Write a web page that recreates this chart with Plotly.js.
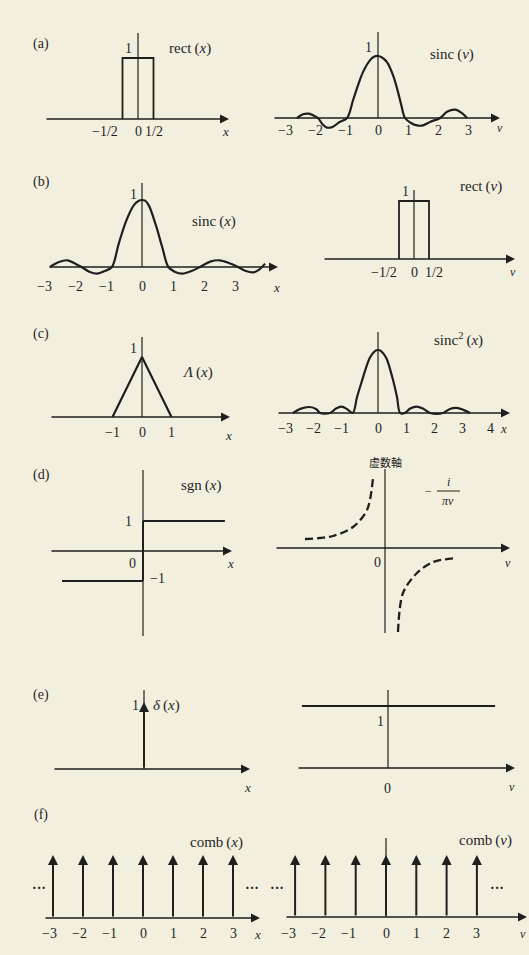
<!DOCTYPE html>
<html><head><meta charset="utf-8">
<script src="https://cdn.plot.ly/plotly-3.0.1.min.js"></script>
<style>html,body{margin:0;padding:0;background:#f3efdf;}#chart{width:529px;height:955px;}</style>
</head><body><div id="chart"></div>
<script>
// ================= DATA =================
// (a) rect(x)
const rectX = [-0.5, -0.5, 0.5, 0.5];
const rectY = [0, 1, 1, 0];
// (a) sinc(nu)
const sincNuX = [-2.7, -2.5, -2.3, -2.15, -2.0, -1.85, -1.7, -1.5, -1.3, -1.03, -0.83, -0.65, -0.5, -0.27, -0.12, 0, 0.12, 0.3, 0.5, 0.65, 0.78, 0.9, 1.1, 1.3, 1.5, 1.75, 2.07, 2.3, 2.57, 2.8, 2.97];
const sincNuY = [0, 0.06, 0.07, 0.04, 0, -0.1, -0.155, -0.14, -0.07, 0, 0.29, 0.55, 0.74, 0.93, 0.99, 1, 0.98, 0.9, 0.69, 0.45, 0.2, 0, -0.08, -0.12, -0.12, -0.06, 0, 0.1, 0.135, 0.08, 0];
// (b) sinc(x)
const sincX = [-2.97, -2.7, -2.4, -2.15, -1.95, -1.7, -1.45, -1.2, -0.97, -0.75, -0.5, -0.25, -0.1, 0, 0.1, 0.22, 0.45, 0.65, 0.85, 1.05, 1.3, 1.6, 1.87, 2.2, 2.5, 2.8, 3.1, 3.35, 3.6, 3.8, 3.97];
const sincY = [0, 0.07, 0.1, 0.05, 0, -0.07, -0.1, -0.06, 0, 0.35, 0.7, 0.93, 0.99, 1, 0.99, 0.92, 0.62, 0.3, 0, -0.07, -0.1, -0.06, 0, 0.08, 0.1, 0.06, 0, -0.06, -0.08, -0.03, 0.05];
// (b) rect(nu)
const rectNuX = [-0.5, -0.5, 0.5, 0.5];
const rectNuY = [0, 1, 1, 0];
// (c) triangle
const triX = [-1, 0, 1];
const triY = [0, 1, 0];
// (c) sinc^2(x)
const sinc2X = [-3.04, -2.75, -2.45, -2.2, -2.07, -1.71, -1.5, -1.3, -1.1, -0.9, -0.75, -0.58, -0.3, -0.12, 0, 0.12, 0.3, 0.55, 0.68, 0.79, 0.96, 1.15, 1.38, 1.6, 1.86, 2.32, 2.55, 2.8, 3.05, 3.29];
const sinc2Y = [0, 0.07, 0.095, 0.06, 0, 0, 0.07, 0.1, 0.06, 0, 0.25, 0.5, 0.87, 0.98, 1, 0.98, 0.87, 0.5, 0.25, 0, 0, 0.07, 0.1, 0.07, 0, 0, 0.06, 0.08, 0.05, 0];
// (d) sgn(x)
const sgnPosX = [0, 2.73], sgnPosY = [1, 1];
const sgnNegX = [-2.7, 0], sgnNegY = [-1, -1];
const sgnJumpX = [0, 0], sgnJumpY = [-1, 1];
// (d) -i/(pi nu)
const invNegX = [-4, -2.6, -1.6, -0.9, -0.6];
const invNegY = [0.09, 0.12, 0.21, 0.38, 0.7];
const invPosX = [0.65, 0.9, 1.6, 2.4, 3.6];
const invPosY = [-0.84, -0.45, -0.25, -0.14, -0.1];
// (e) delta and constant 1
const deltaX = [0], deltaY = [1];
const constX = [-2.87, 3.57], constY = [1, 1];
// (f) comb
const combX = [-3, -2, -1, 0, 1, 2, 3];
const combY = [1, 1, 1, 1, 1, 1, 1];
// tick labels
const halfVals = [-0.5, 0, 0.5];
const halfText = ['\u22121/2', '0', '1/2'];
const intVals7 = [-3, -2, -1, 0, 1, 2, 3];
const intVals8 = [-3, -2, -1, 0, 1, 2, 3, 4];
const intVals3 = [-1, 0, 1];

// ================= LAYOUT / STYLE =================
const W = 529, H = 955;
const INK = '#1f1f1f';
const SERIF = 'Liberation Serif, DejaVu Serif, serif';
const CJK = 'Noto Sans CJK JP';
const panels = {
  a1: {box:[28,262,20,150], o:[138,119], s:[31,61], h:[45,229], v:[33,119]},
  a2: {box:[265,529,20,150], o:[378,118], s:[30,62], h:[273,500], v:[32,118]},
  b1: {box:[28,290,170,305], o:[142,267], s:[31,67], h:[48,278], v:[183,267]},
  b2: {box:[300,529,170,305], o:[414,259], s:[30,58], h:[323,515], v:[190,259]},
  c1: {box:[28,262,320,450], o:[142,417], s:[29.5,60], h:[50,230], v:[337,417]},
  c2: {box:[265,529,320,450], o:[378,413], s:[28,63], h:[277,510], v:[332,413]},
  d1: {box:[28,262,455,650], o:[143,551], s:[30,30], h:[50,232], v:[470,636]},
  d2: {box:[265,529,455,650], o:[385,548], s:[20,100], h:[275,510], v:[469,633]},
  e1: {box:[28,262,670,800], o:[144,769], s:[30,67], h:[53,250], v:[690,769]},
  e2: {box:[280,529,670,800], o:[388,768], s:[30,62], h:[297,515], v:[690,768]},
  f1: {box:[20,268,820,950], o:[143,918], s:[30,63], h:[44,260], v:null},
  f2: {box:[272,529,820,950], o:[386,917], s:[30.3,62], h:[285,527], v:[838,917]}
};
const order = ['a1','a2','b1','b2','c1','c2','d1','d2','e1','e2','f1','f2'];
const layout = {
  width: W, height: H, autosize: false,
  margin: {l:0, r:0, t:0, b:0, pad:0},
  paper_bgcolor: '#f3efdf', plot_bgcolor: 'rgba(0,0,0,0)',
  showlegend: false, hovermode: false,
  annotations: [], shapes: []
};
order.forEach((k, i) => {
  const p = panels[k], n = i === 0 ? '' : String(i + 1);
  p.xa = 'x' + n; p.ya = 'y' + n;
  const [bx0, bx1, by0, by1] = p.box, [ox, oy] = p.o, [sx, sy] = p.s;
  layout['xaxis' + n] = {domain:[bx0/W, bx1/W], range:[(bx0-ox)/sx, (bx1-ox)/sx], visible:false, fixedrange:true, anchor:'y'+n};
  layout['yaxis' + n] = {domain:[1-by1/H, 1-by0/H], range:[(oy-by1)/sy, (oy-by0)/sy], visible:false, fixedrange:true, anchor:'x'+n};
  // horizontal axis with arrow
  layout.annotations.push({xref:p.xa, yref:p.ya, axref:p.xa, ayref:p.ya,
    x:(p.h[1]-ox)/sx, y:0, ax:(p.h[0]-ox)/sx, ay:0, text:'', showarrow:true,
    arrowhead:2, arrowsize:1.2, arrowwidth:1.5, arrowcolor:INK, standoff:0});
  // vertical axis
  if (p.v) layout.shapes.push({type:'line', xref:p.xa, yref:p.ya, x0:0, x1:0,
    y0:(oy-p.v[1])/sy, y1:(oy-p.v[0])/sy, line:{color:INK, width:1.2}});
});

const traces = [];
function line(k, xs, ys, opt) {
  opt = opt || {};
  const p = panels[k];
  traces.push({type:'scatter', mode:'lines', x:xs, y:ys, xaxis:p.xa, yaxis:p.ya,
    line:{color:INK, width:opt.w || 2.2, shape:opt.shape || 'linear', dash:opt.dash || 'solid', smoothing:0.9},
    hoverinfo:'skip', cliponaxis:false});
}
function dtext(k, x, y, t, dx, dy, size) {
  const p = panels[k];
  layout.annotations.push({xref:p.xa, yref:p.ya, x:x, y:y, text:t, showarrow:false,
    xshift:dx || 0, yshift:dy || 0, xanchor:'center', yanchor:'middle',
    font:{family:SERIF, size:size || 14, color:INK}});
}
function ptext(px, py, t, size, fam) {
  layout.annotations.push({xref:'paper', yref:'paper', x:px/W, y:1-py/H, text:t, showarrow:false,
    xanchor:'center', yanchor:'middle', font:{family:fam || SERIF, size:size || 14, color:INK}});
}
function arrows(k, xs, ys, w) {
  const p = panels[k];
  xs.forEach((x, i) => layout.annotations.push({xref:p.xa, yref:p.ya, axref:p.xa, ayref:p.ya,
    x:x, y:ys[i], ax:x, ay:0, text:'', showarrow:true, arrowhead:2, arrowsize:1,
    arrowwidth:w || 2, arrowcolor:INK, standoff:0}));
}
function ticks(k, vals, texts, dy, shifts) {
  vals.forEach((v, i) => dtext(k, v, 0, texts[i], shifts ? shifts[i] : 0, dy, 14));
}
const fmt = v => (v < 0 ? '\u2212' + Math.abs(v) : String(v));
const negShift = (vals, d) => vals.map(v => (v < 0 ? d : 0));
const FN = 15;

// ---- (a)
line('a1', rectX, rectY, {w:1.8});
dtext('a1', 0, 1, '1', -10, 10);
ticks('a1', halfVals, halfText, -12, [-18, 0, 0]);
ptext(41, 44, '(a)', 14);
ptext(190, 48, 'rect\u2009(<i>x</i>)', FN);
ptext(225, 131, '<i>x</i>', 13);

line('a2', sincNuX, sincNuY, {shape:'spline'});
dtext('a2', 0, 1, '1', -10, 9);
ticks('a2', intVals7, intVals7.map(fmt), -12, negShift(intVals7, -3));
ptext(452, 54, 'sinc\u2009(<i>ν</i>)', FN);
ptext(500, 128, '<i>ν</i>', 12);

// ---- (b)
line('b1', sincX, sincY, {shape:'spline'});
dtext('b1', 0, 1, '1', -9, 5);
ticks('b1', intVals7, intVals7.map(fmt), -19, negShift(intVals7, -5));
ptext(41, 182, '(b)', 14);
ptext(214, 222, 'sinc\u2009(<i>x</i>)', FN);
ptext(276, 287, '<i>x</i>', 13);

line('b2', rectNuX, rectNuY, {w:1.8});
dtext('b2', 0, 1, '1', -9, 9);
ticks('b2', halfVals, halfText, -13, [-15, 0, 5]);
ptext(481, 187, 'rect\u2009(<i>ν</i>)', FN);
ptext(513, 272, '<i>ν</i>', 12);

// ---- (c)
line('c1', triX, triY, {w:2.2});
dtext('c1', 0, 1, '1', -9, 9);
ticks('c1', intVals3, intVals3.map(fmt), -15, [0, 0, 0]);
ptext(41, 334, '(c)', 14);
ptext(197, 372, '<i>Λ</i>\u2009(<i>x</i>)', FN);
ptext(228, 436, '<i>x</i>', 13);

line('c2', sinc2X, sinc2Y, {shape:'spline'});
ticks('c2', intVals8, intVals8.map(fmt), -15, negShift(intVals8, -9));
ptext(458, 340, 'sinc<sup>2</sup>\u2009(<i>x</i>)', FN);
ptext(503, 428, '<i>x</i>', 13);

// ---- (d)
line('d1', sgnPosX, sgnPosY, {w:2.2});
line('d1', sgnNegX, sgnNegY, {w:2.2});
line('d1', sgnJumpX, sgnJumpY, {w:2});
dtext('d1', 0, 1, '1', -15, 0);
dtext('d1', 0, 0, '0', -11, -12);
dtext('d1', 0, -1, '\u22121', 14, 3);
ptext(41, 475, '(d)', 14);
ptext(201, 485, 'sgn\u2009(<i>x</i>)', FN);
ptext(230, 563, '<i>x</i>', 13);

line('d2', invNegX, invNegY, {shape:'spline', dash:'8px,4px', w:2.3});
line('d2', invPosX, invPosY, {shape:'spline', dash:'8px,4px', w:2.3});
dtext('d2', 0, 0, '0', -8, -14);
ptext(385, 462, '虚数軸', 11, CJK);
ptext(428, 491, '\u2212', 12);
ptext(448, 482, '<i>i</i>', 12);
ptext(448, 501, '<i>πν</i>', 12);
layout.shapes.push({type:'line', xref:'paper', yref:'paper', x0:437/W, x1:460/W, y0:1-491/H, y1:1-491/H, line:{color:INK, width:1}});
ptext(508, 563, '<i>ν</i>', 12);

// ---- (e)
arrows('e1', deltaX, deltaY, 2);
dtext('e1', 0, 1, '1', -9, -3);
ptext(41, 695, '(e)', 14);
ptext(166, 705, '<i>δ</i>\u2009(<i>x</i>)', FN);
ptext(247, 787, '<i>x</i>', 13);

line('e2', constX, constY, {w:2.2});
dtext('e2', 0, 1, '1', -8, -15);
dtext('e2', 0, 0, '0', -1, -20);
ptext(512, 787, '<i>ν</i>', 12);

// ---- (f)
arrows('f1', combX, combY, 2);
ticks('f1', intVals7, intVals7.map(fmt), -15, negShift(intVals7, -4));
ptext(41, 815, '(f)', 14);
ptext(216, 842, 'comb\u2009(<i>x</i>)', FN);
ptext(39, 888, '<b>···</b>', 14);
ptext(252, 888, '<b>···</b>', 14);
ptext(257, 934, '<i>x</i>', 13);

arrows('f2', combX, combY, 2);
ticks('f2', intVals7, intVals7.map(fmt), -16, negShift(intVals7, -7));
ptext(485, 840, 'comb\u2009(<i>ν</i>)', FN);
ptext(277, 888, '<b>···</b>', 14);
ptext(497, 888, '<b>···</b>', 14);
ptext(523, 934, '<i>ν</i>', 12);

Plotly.newPlot('chart', traces, layout, {staticPlot:true, displayModeBar:false});
</script></body></html>
